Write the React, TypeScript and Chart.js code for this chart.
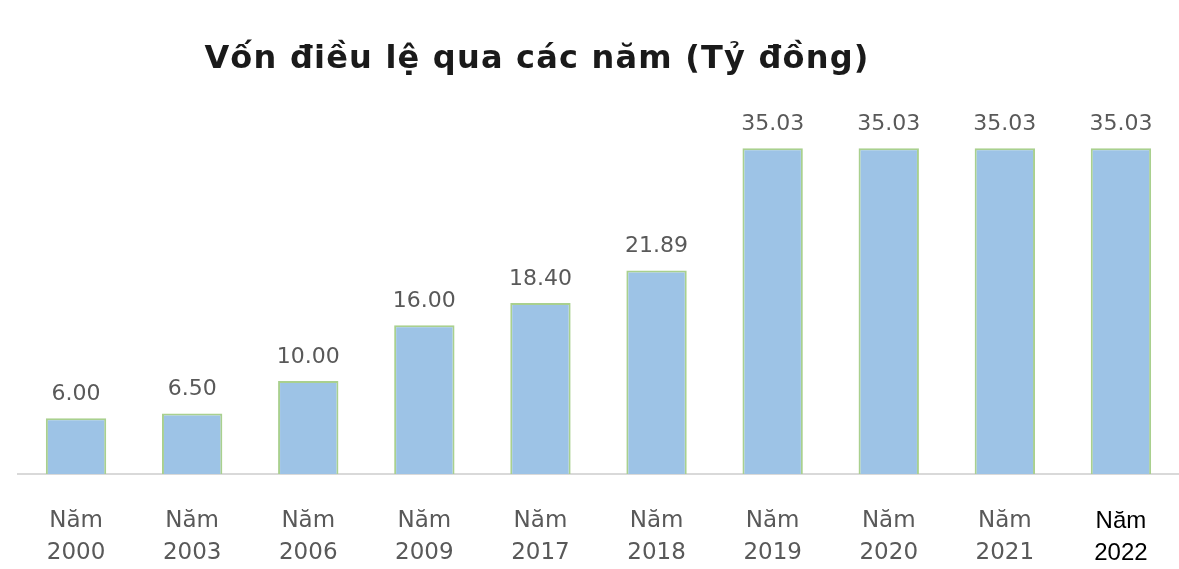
import React, { useEffect, useRef } from "react";
import { Chart, registerables } from "chart.js";

Chart.register(...registerables);

const years = ["2000", "2003", "2006", "2009", "2017", "2018", "2019", "2020", "2021", "2022"];
const categoryLabels = years.map((y) => ["Năm", y]);
const capitalValues = [6.0, 6.5, 10.0, 16.0, 18.4, 21.89, 35.03, 35.03, 35.03, 35.03];
const titleText = "Vốn điều lệ qua các năm (Tỷ đồng)";

const valueLabelPlugin = {
  id: "valueLabels",
  afterDatasetsDraw(chart: any) {
    const ctx = chart.ctx;
    const meta = chart.getDatasetMeta(0);
    ctx.save();
    ctx.font = "22px 'DejaVu Sans'";
    ctx.fillStyle = "#595959";
    ctx.textAlign = "center";
    ctx.textBaseline = "middle";
    meta.data.forEach((bar: any, i: number) => {
      const v = chart.data.datasets[0].data[i] as number;
      ctx.fillText(v.toFixed(2), bar.x, bar.y - 24);
    });
    ctx.restore();
  },
};

const titlePlugin = {
  id: "customTitle",
  afterDraw(chart: any) {
    const ctx = chart.ctx;
    ctx.save();
    ctx.font = "bold 32px 'DejaVu Sans'";
    (ctx as any).letterSpacing = "1.2px";
    ctx.fillStyle = "#1a1a1a";
    ctx.textAlign = "center";
    ctx.textBaseline = "middle";
    ctx.fillText(titleText, 537, 60);
    ctx.restore();
  },
};

export default function App() {
  const canvasRef = useRef<HTMLCanvasElement | null>(null);

  useEffect(() => {
    document.body.style.margin = "0";
    const canvas = canvasRef.current;
    if (!canvas) return;
    const chart = new Chart(canvas, {
      type: "bar",
      data: {
        labels: categoryLabels,
        datasets: [
          {
            data: capitalValues,
            backgroundColor: "#9DC3E6",
            borderColor: "#A9D08E",
            borderWidth: 2,
            barPercentage: 0.52,
            categoryPercentage: 1,
          },
        ],
      },
      options: {
        animation: false,
        responsive: false,
        maintainAspectRatio: false,
        layout: { padding: { left: 18, right: 0, top: 102, bottom: 0 } },
        plugins: {
          legend: { display: false },
          tooltip: { enabled: false },
          title: { display: false },
        },
        scales: {
          x: {
            grid: { display: false, drawTicks: false },
            border: { display: true, color: "#d9d9d9", width: 2 },
            afterFit: (scale: any) => {
              scale.height = 95;
            },
            ticks: {
              padding: 31,
              maxRotation: 0,
              autoSkip: false,
              color: (c: any) => (c.index === years.length - 1 ? "#000000" : "#595959"),
              font: (c: any) =>
                c.index === years.length - 1
                  ? { family: "'Liberation Sans'", size: 24, lineHeight: 1.35 }
                  : { family: "'DejaVu Sans'", size: 23, lineHeight: 1.4 },
            },
          },
          y: {
            display: false,
            min: 0,
            max: 40,
          },
        },
      },
      plugins: [valueLabelPlugin, titlePlugin],
    });
    return () => chart.destroy();
  }, []);

  return (
    <div style={{ width: 1179, height: 569, background: "#ffffff" }}>
      <canvas ref={canvasRef} width={1179} height={569} />
    </div>
  );
}
